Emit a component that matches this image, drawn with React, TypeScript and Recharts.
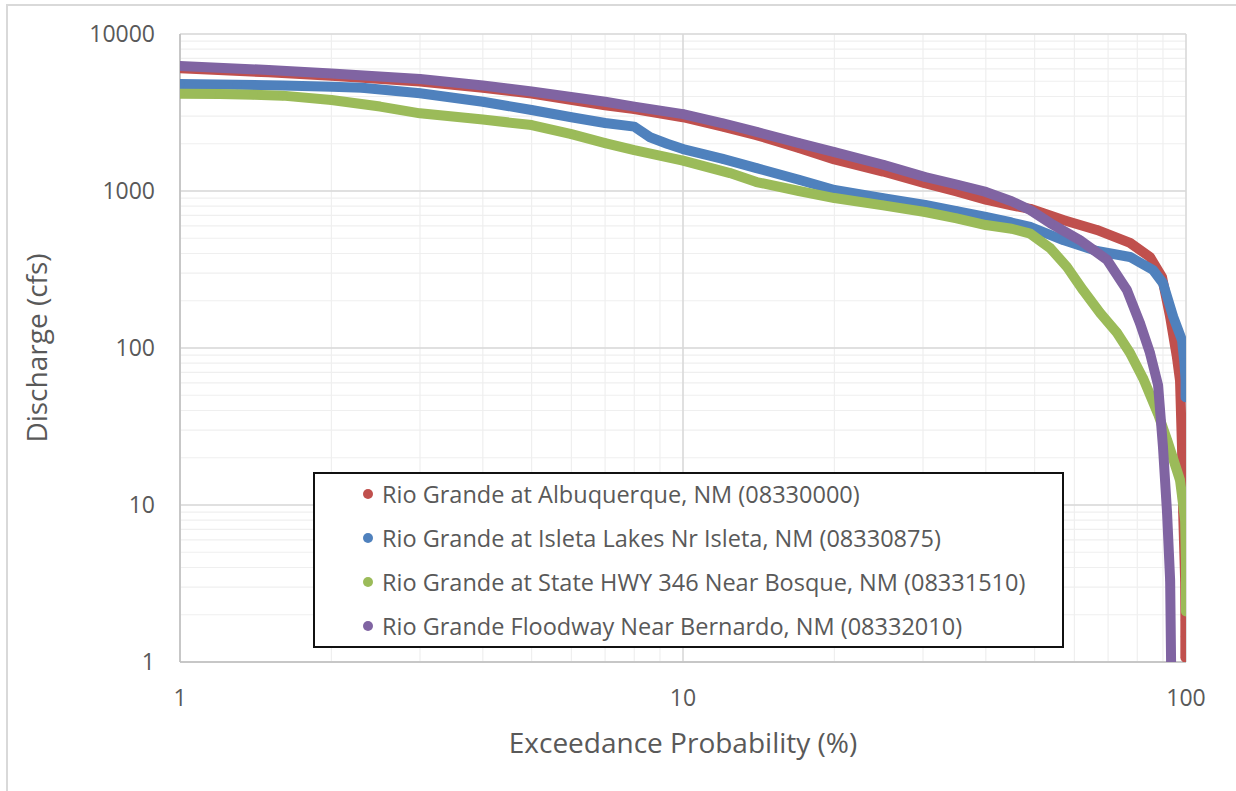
import {
  CartesianGrid,
  Legend,
  Scatter,
  ScatterChart,
  XAxis,
  YAxis,
  ZAxis,
} from 'recharts'

// [exceedance %, discharge cfs]
const albuquerque: [number, number][] = [
  [1, 6050], [1.5, 5700], [2, 5420], [3, 4980], [4, 4550], [5, 4180], [7, 3520],
  [8, 3330], [10, 2950], [12, 2570], [14, 2270], [17, 1880], [20, 1590], [25, 1330],
  [30, 1130], [35, 995], [40, 880], [45, 810], [49, 770], [57, 653], [66.5, 565],
  [77.4, 467], [84.8, 380], [89.6, 283], [93, 158], [95.9, 88], [97.3, 62], [98.2, 23],
  [98.7, 9], [99.6, 3.3], [99.7, 1.85], [99.7, 1.45], [99.7, 1.07],
]

const isleta: [number, number][] = [
  [1, 4800], [1.3, 4750], [1.6, 4700], [2, 4620], [2.3, 4550], [3, 4190], [4, 3700],
  [5, 3280], [6, 2950], [7, 2710], [8, 2570], [8.6, 2200], [9.3, 2000], [10, 1850],
  [12, 1600], [14, 1400], [17, 1180], [20, 1015], [25, 900], [30.3, 815], [35, 745],
  [40, 683], [45, 630], [49, 590], [57, 487], [66.5, 415], [77.4, 380], [86, 314],
  [90, 259], [94.3, 158], [98.2, 112], [99.3, 80], [99.8, 63], [99.8, 48.5],
]

const bosque: [number, number][] = [
  [1, 4170], [1.2, 4150], [1.4, 4100], [1.6, 4050], [2, 3800], [2.5, 3450], [3, 3125],
  [4, 2850], [5, 2630], [6, 2300], [7, 2020], [8, 1820], [10, 1560], [12.4, 1300],
  [14, 1140], [17, 1000], [20, 902], [25, 810], [30.3, 735], [35, 670], [40, 607],
  [45, 575], [49, 535], [53.7, 433], [58, 328], [62.4, 234], [67.5, 167], [72.9, 125],
  [77.4, 93], [82.2, 64], [88, 38], [91.7, 26], [97.3, 14.4], [99.6, 8], [100, 4.3],
  [100, 2.1],
]

const bernardo: [number, number][] = [
  [1, 6250], [1.5, 5900], [2, 5600], [3, 5170], [4, 4700], [5, 4300], [7, 3700],
  [8, 3450], [10, 3090], [12, 2700], [14, 2380], [17, 2020], [20, 1770], [25, 1470],
  [30.3, 1228], [35, 1100], [40, 986], [45, 860], [49, 757], [53.7, 625], [61.5, 487],
  [69.7, 364], [76.3, 234], [81, 144], [84.8, 93], [88, 58], [90, 23.4], [91.7, 8.9],
  [93, 3.3], [93.4, 1],
]

const seriesNames = [
  'Rio Grande at Albuquerque, NM (08330000)',
  'Rio Grande at Isleta Lakes Nr Isleta, NM (08330875)',
  'Rio Grande at State HWY 346 Near Bosque, NM (08331510)',
  'Rio Grande Floodway Near Bernardo, NM (08332010)',
]
const seriesColors = ['#C0504D', '#4F81BD', '#9BBB59', '#8064A2']
const seriesData = [albuquerque, isleta, bosque, bernardo]

const xTicks = [1, 2, 3, 4, 5, 6, 7, 8, 9, 10, 20, 30, 40, 50, 60, 70, 80, 90, 100]
const yTicks = [
  1, 2, 3, 4, 5, 6, 7, 8, 9, 10, 20, 30, 40, 50, 60, 70, 80, 90, 100, 200, 300, 400,
  500, 600, 700, 800, 900, 1000, 2000, 3000, 4000, 5000, 6000, 7000, 8000, 9000, 10000,
]
const xMajor = [1, 10, 100]
const yMajor = [1, 10, 100, 1000, 10000]

const FONT = '"Open Sans", "Noto Sans", sans-serif'
const TEXT = '#595959'

const decadeLabel = (v: number) => (Math.abs(Math.log10(v) % 1) < 1e-9 ? String(v) : '')

function LegendBox({ payload }: any) {
  // keep the series order instead of the alphabetical one
  const items = [...(payload || [])].sort(
    (a: any, b: any) => seriesNames.indexOf(a.value) - seriesNames.indexOf(b.value),
  )
  return (
    <div
      style={{
        border: '2px solid #111',
        background: '#fff',
        height: 176,
        boxSizing: 'border-box',
      }}
    >
      {items.map((p: any, i: number) => (
        <div
          key={p.value}
          style={{
            display: 'flex',
            alignItems: 'center',
            height: 44,
            marginTop: i === 0 ? -2 : 0,
            paddingLeft: 48,
          }}
        >
          <span
            style={{
              width: 10,
              height: 10,
              borderRadius: 5,
              background: p.color,
              display: 'inline-block',
              marginRight: 9,
            }}
          />
          <span style={{ fontFamily: FONT, fontSize: 23.5, color: TEXT }}>{p.value}</span>
        </div>
      ))}
    </div>
  )
}

export default function App() {
  return (
    <div style={{ position: 'absolute', left: 0, top: 0, width: 1236, height: 791, background: '#fff' }}>
      <div
        style={{
          position: 'absolute',
          left: 6,
          top: 4,
          width: 1230,
          height: 787,
          borderLeft: '2px solid #d9d9d9',
          borderTop: '2px solid #d9d9d9',
        }}
      />
      <ScatterChart
        width={1236}
        height={791}
        margin={{ top: 34, right: 50, bottom: 0, left: 0 }}
        style={{ position: 'absolute', left: 0, top: 0 }}
      >
        <CartesianGrid stroke="#efefef" strokeWidth={1.2} />
        <CartesianGrid
          stroke="#d9d9d9"
          strokeWidth={1.5}
          horizontalValues={yMajor}
          verticalValues={xMajor}
        />
        <XAxis
          type="number"
          dataKey="x"
          scale="log"
          domain={[1, 100]}
          ticks={xTicks}
          interval={0}
          allowDataOverflow
          height={129}
          tickLine={false}
          axisLine={{ stroke: '#bfbfbf', strokeWidth: 1.5 }}
          tickMargin={22}
          tickFormatter={decadeLabel}
          tick={{ fill: TEXT, fontSize: 23, fontFamily: FONT }}
          label={({ viewBox }: any) => (
            <text
              x={viewBox.x + viewBox.width / 2}
              y={742}
              textAnchor="middle"
              dominantBaseline="central"
              fill={TEXT}
              fontSize={28}
              fontFamily={FONT}
            >
              Exceedance Probability (%)
            </text>
          )}
        />
        <YAxis
          type="number"
          dataKey="y"
          scale="log"
          domain={[1, 10000]}
          ticks={yTicks}
          interval={0}
          allowDataOverflow
          width={180}
          tickLine={false}
          axisLine={{ stroke: '#bfbfbf', strokeWidth: 1.5 }}
          tickMargin={19}
          tickFormatter={decadeLabel}
          tick={{ fill: TEXT, fontSize: 23, fontFamily: FONT }}
          label={({ viewBox }: any) => {
            const cy = viewBox.y + viewBox.height / 2
            return (
              <text
                x={36}
                y={cy}
                transform={`rotate(-90 36 ${cy})`}
                textAnchor="middle"
                dominantBaseline="central"
                fill={TEXT}
                fontSize={28}
                fontFamily={FONT}
              >
                Discharge (cfs)
              </text>
            )
          }}
        />
        <ZAxis range={[80, 80]} />
        {seriesData.map((s, i) => (
          <Scatter
            key={seriesNames[i]}
            name={seriesNames[i]}
            data={s.map(([x, y]) => ({ x, y }))}
            fill={seriesColors[i]}
            line={{
              stroke: seriesColors[i],
              strokeWidth: 10,
              strokeLinejoin: 'round',
              strokeLinecap: 'round',
            }}
            lineJointType="linear"
            shape="circle"
            isAnimationActive={false}
          />
        ))}
        <Legend
          layout="horizontal"
          verticalAlign="middle"
          align="center"
          content={<LegendBox />}
          wrapperStyle={{ position: 'absolute', left: 313, top: 472, width: 751, height: 176 }}
        />
      </ScatterChart>
    </div>
  )
}
